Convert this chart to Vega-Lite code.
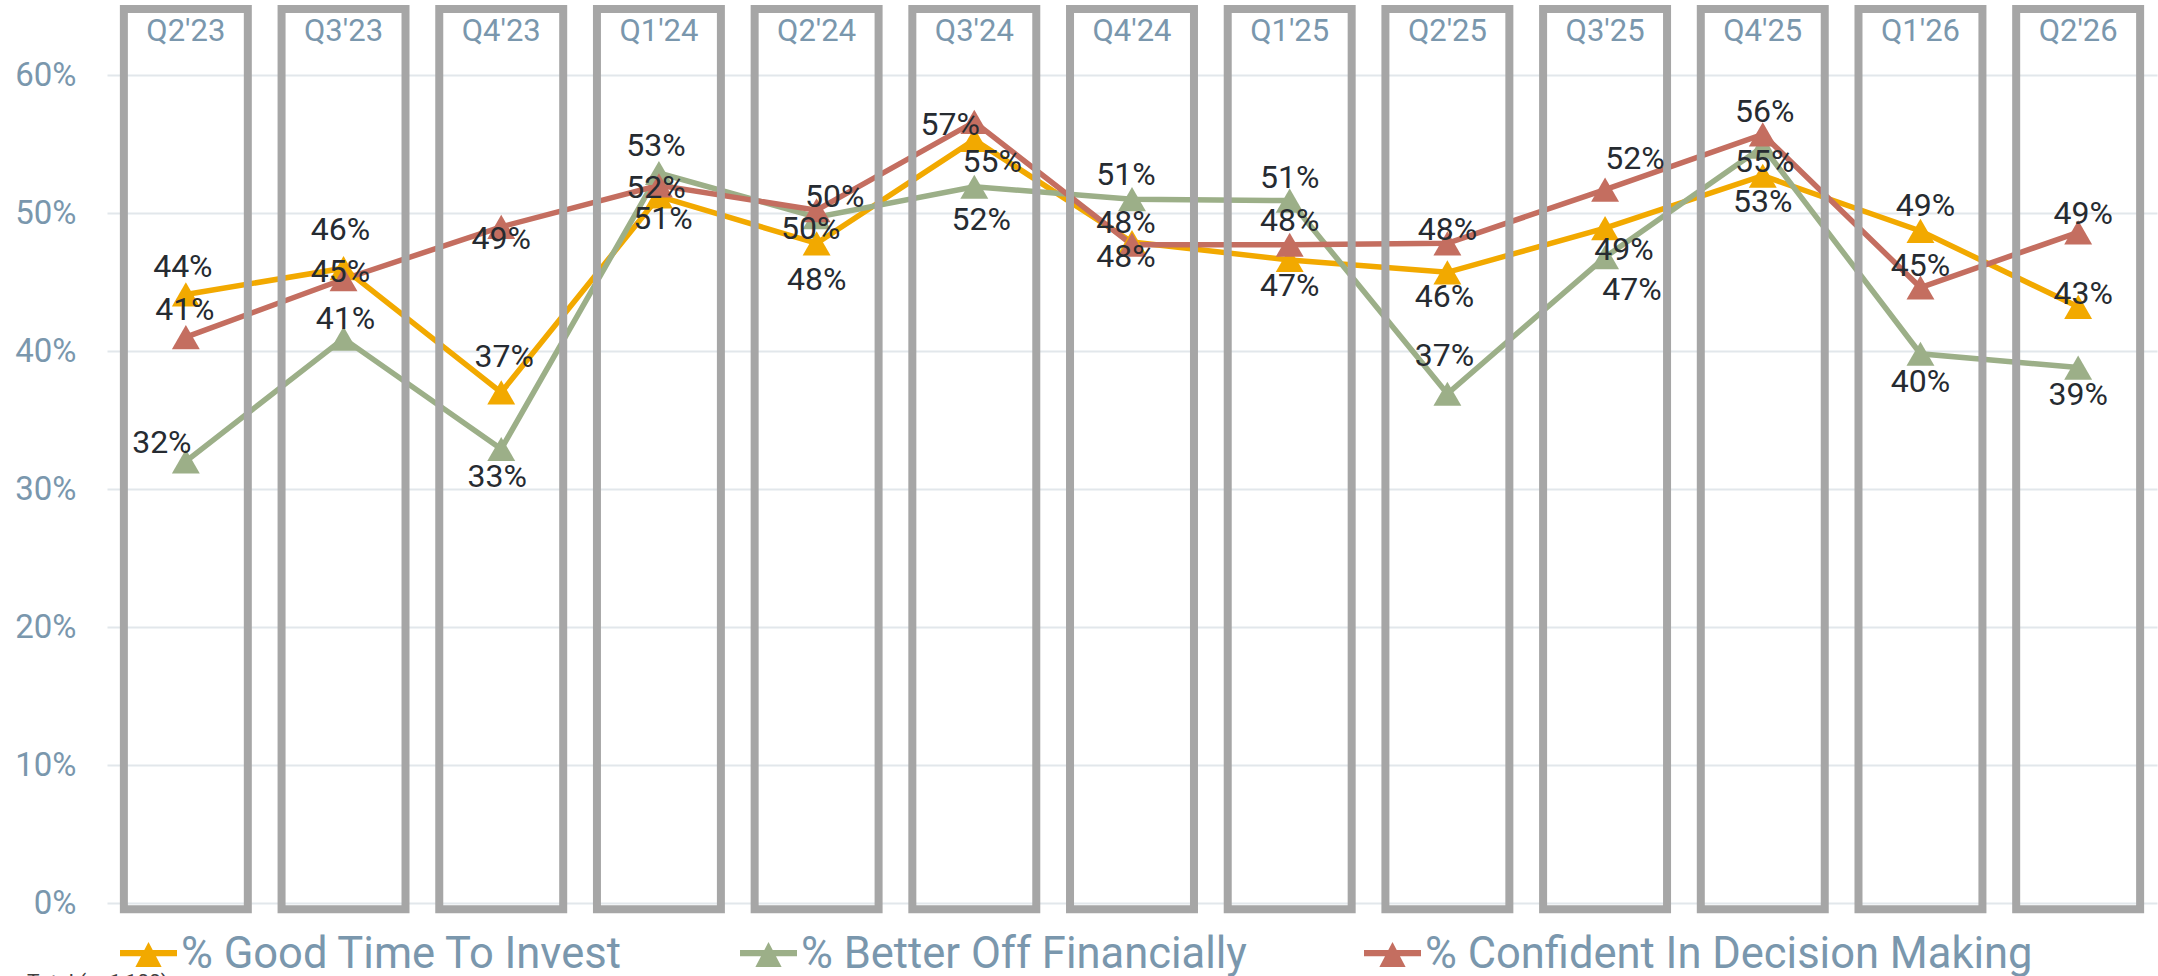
{
  "$schema": "https://vega.github.io/schema/vega-lite/v6.json",
  "width": 2050,
  "height": 828,
  "autosize": "none",
  "padding": {"left": 107, "top": 75, "right": 1, "bottom": 73},
  "background": "white",
  "config": {
    "font": "Roboto",
    "view": {"stroke": null},
    "axis": {"labelFont": "Roboto", "labelColor": "#7a97ad", "domain": false, "ticks": false, "tickSize": 0, "title": null}
  },
  "title": {"text": "Total (n=1,100)", "orient": "bottom", "anchor": "start", "frame": "group", "offset": -4, "dx": -80, "fontSize": 21, "fontWeight": "normal", "color": "#404040", "baseline": "top"},
  "datasets": {
    "points": [
      {"quarter": "Q2'23", "series": "% Good Time To Invest", "value": 0.441},
      {"quarter": "Q3'23", "series": "% Good Time To Invest", "value": 0.460},
      {"quarter": "Q4'23", "series": "% Good Time To Invest", "value": 0.370},
      {"quarter": "Q1'24", "series": "% Good Time To Invest", "value": 0.512},
      {"quarter": "Q2'24", "series": "% Good Time To Invest", "value": 0.478},
      {"quarter": "Q3'24", "series": "% Good Time To Invest", "value": 0.553},
      {"quarter": "Q4'24", "series": "% Good Time To Invest", "value": 0.479},
      {"quarter": "Q1'25", "series": "% Good Time To Invest", "value": 0.466},
      {"quarter": "Q2'25", "series": "% Good Time To Invest", "value": 0.457},
      {"quarter": "Q3'25", "series": "% Good Time To Invest", "value": 0.489},
      {"quarter": "Q4'25", "series": "% Good Time To Invest", "value": 0.527},
      {"quarter": "Q1'26", "series": "% Good Time To Invest", "value": 0.487},
      {"quarter": "Q2'26", "series": "% Good Time To Invest", "value": 0.432},
      {"quarter": "Q2'23", "series": "% Better Off Financially", "value": 0.320},
      {"quarter": "Q3'23", "series": "% Better Off Financially", "value": 0.409},
      {"quarter": "Q4'23", "series": "% Better Off Financially", "value": 0.329},
      {"quarter": "Q1'24", "series": "% Better Off Financially", "value": 0.529},
      {"quarter": "Q2'24", "series": "% Better Off Financially", "value": 0.497},
      {"quarter": "Q3'24", "series": "% Better Off Financially", "value": 0.519},
      {"quarter": "Q4'24", "series": "% Better Off Financially", "value": 0.510},
      {"quarter": "Q1'25", "series": "% Better Off Financially", "value": 0.509},
      {"quarter": "Q2'25", "series": "% Better Off Financially", "value": 0.369},
      {"quarter": "Q3'25", "series": "% Better Off Financially", "value": 0.468},
      {"quarter": "Q4'25", "series": "% Better Off Financially", "value": 0.548},
      {"quarter": "Q1'26", "series": "% Better Off Financially", "value": 0.398},
      {"quarter": "Q2'26", "series": "% Better Off Financially", "value": 0.388},
      {"quarter": "Q2'23", "series": "% Confident In Decision Making", "value": 0.410},
      {"quarter": "Q3'23", "series": "% Confident In Decision Making", "value": 0.452},
      {"quarter": "Q4'23", "series": "% Confident In Decision Making", "value": 0.490},
      {"quarter": "Q1'24", "series": "% Confident In Decision Making", "value": 0.520},
      {"quarter": "Q2'24", "series": "% Confident In Decision Making", "value": 0.502},
      {"quarter": "Q3'24", "series": "% Confident In Decision Making", "value": 0.566},
      {"quarter": "Q4'24", "series": "% Confident In Decision Making", "value": 0.477},
      {"quarter": "Q1'25", "series": "% Confident In Decision Making", "value": 0.477},
      {"quarter": "Q2'25", "series": "% Confident In Decision Making", "value": 0.478},
      {"quarter": "Q3'25", "series": "% Confident In Decision Making", "value": 0.517},
      {"quarter": "Q4'25", "series": "% Confident In Decision Making", "value": 0.557},
      {"quarter": "Q1'26", "series": "% Confident In Decision Making", "value": 0.446},
      {"quarter": "Q2'26", "series": "% Confident In Decision Making", "value": 0.486}
    ],
    "quarters": [
      {"quarter": "Q2'23"}, {"quarter": "Q3'23"}, {"quarter": "Q4'23"}, {"quarter": "Q1'24"},
      {"quarter": "Q2'24"}, {"quarter": "Q3'24"}, {"quarter": "Q4'24"}, {"quarter": "Q1'25"},
      {"quarter": "Q2'25"}, {"quarter": "Q3'25"}, {"quarter": "Q4'25"}, {"quarter": "Q1'26"},
      {"quarter": "Q2'26"}
    ]
  },
  "encoding": {
    "x": {
      "field": "quarter", "type": "nominal",
      "scale": {"type": "band", "domain": ["Q2'23","Q3'23","Q4'23","Q1'24","Q2'24","Q3'24","Q4'24","Q1'25","Q2'25","Q3'25","Q4'25","Q1'26","Q2'26"], "paddingInner": 0.214, "paddingOuter": 0.107},
      "axis": {"orient": "top", "labelAngle": 0, "labelFontSize": 31, "labelPadding": 35, "labelBaseline": "alphabetic", "grid": false}
    }
  },
  "layer": [
    {
      "data": {"name": "points"},
      "mark": {"type": "line", "strokeWidth": 5.5},
      "encoding": {
        "y": {"field": "value", "type": "quantitative", "scale": {"domain": [0, 0.6], "nice": false, "zero": true},
              "axis": {"format": ".0%", "values": [0, 0.1, 0.2, 0.3, 0.4, 0.5, 0.6], "labelFontSize": 33, "labelPadding": 31, "grid": true, "gridColor": "#e2e7eb", "gridWidth": 2}},
        "color": {"field": "series", "type": "nominal",
                  "scale": {"domain": ["% Good Time To Invest", "% Better Off Financially", "% Confident In Decision Making"], "range": ["#f2a900", "#9caf88", "#c46e60"]}}
      }
    },
    {
      "data": {"name": "points"},
      "mark": {"type": "point", "shape": "triangle-up", "filled": true, "opacity": 1, "size": 780},
      "encoding": {
        "y": {"field": "value", "type": "quantitative"},
        "color": {"field": "series", "type": "nominal",
                  "legend": {"title": null, "orient": "none", "legendX": 13, "legendY": 851, "direction": "horizontal",
                             "symbolType": "M-1,-0.16H1V0.06H-1Z M0,-0.44L0.46,0.44H-0.46Z", "symbolSize": 3249, "symbolStrokeWidth": 0, "symbolOpacity": 1,
                             "labelFontSize": 43.5, "labelColor": "#7a97ad", "labelFont": "Roboto", "labelOffset": 4, "columnPadding": 117, "padding": 0, "labelLimit": 800,
                             "encode": {"symbols": {"update": {"fill": {"scale": "color", "field": "value"}, "stroke": {"value": "transparent"}, "opacity": {"value": 1}, "fillOpacity": {"value": 1}}}}}}
      }
    },
    {
      "data": {"name": "quarters"},
      "mark": {"type": "rect", "fill": null, "fillOpacity": 0, "stroke": "#a6a6a6", "strokeWidth": 8},
      "encoding": {
        "y": {"datum": 0.6478, "type": "quantitative"},
        "y2": {"datum": -0.0045}
      }
    },
    {
      "data": {"name": "points"},
      "mark": {
        "type": "text", "fontSize": 32, "color": "#262b31", "align": "center", "baseline": "middle",
        "dy": {"expr": "({\"GQ2'23\":-27,\"GQ3'23\":-38,\"GQ4'23\":-35,\"GQ1'24\":23,\"GQ2'24\":37,\"GQ3'24\":22,\"GQ4'24\":15,\"GQ1'25\":26,\"GQ2'25\":25,\"GQ3'25\":22,\"GQ4'25\":26,\"GQ1'26\":-25,\"GQ2'26\":-13,\"BQ2'23\":-18,\"BQ3'23\":-20,\"BQ4'23\":28,\"BQ1'24\":-27,\"BQ2'24\":12,\"BQ3'24\":33,\"BQ4'24\":-24,\"BQ1'25\":-23,\"BQ2'25\":-38,\"BQ3'25\":33,\"BQ4'25\":15,\"BQ1'26\":28,\"BQ2'26\":27,\"CQ2'23\":-27,\"CQ3'23\":-7,\"CQ4'23\":12,\"CQ1'24\":3,\"CQ2'24\":-13,\"CQ3'24\":3,\"CQ4'24\":-22,\"CQ1'25\":-24,\"CQ2'25\":-13,\"CQ3'25\":-31,\"CQ4'25\":-22,\"CQ1'26\":-22,\"CQ2'26\":-18})[substring(datum.series,2,3)+datum.quarter] || 0"},
        "dx": {"expr": "({\"GQ2'23\":-3,\"GQ3'23\":-3,\"GQ4'23\":3,\"GQ1'24\":4,\"GQ3'24\":18,\"GQ4'24\":-6,\"GQ2'25\":-3,\"GQ3'25\":19,\"GQ1'26\":5,\"GQ2'26\":5,\"BQ2'23\":-24,\"BQ3'23\":2,\"BQ4'23\":-4,\"BQ1'24\":-3,\"BQ2'24\":-6,\"BQ3'24\":7,\"BQ4'24\":-6,\"BQ2'25\":-3,\"BQ3'25\":27,\"BQ4'25\":2,\"CQ2'23\":-1,\"CQ3'23\":-3,\"CQ1'24\":-3,\"CQ2'24\":18,\"CQ3'24\":-24,\"CQ4'24\":-6,\"CQ3'25\":30,\"CQ4'25\":2,\"CQ2'26\":5})[substring(datum.series,2,3)+datum.quarter] || 0"}
      },
      "encoding": {
        "y": {"field": "value", "type": "quantitative"},
        "text": {"field": "value", "type": "quantitative", "format": ".0%"}
      }
    }
  ]
}
